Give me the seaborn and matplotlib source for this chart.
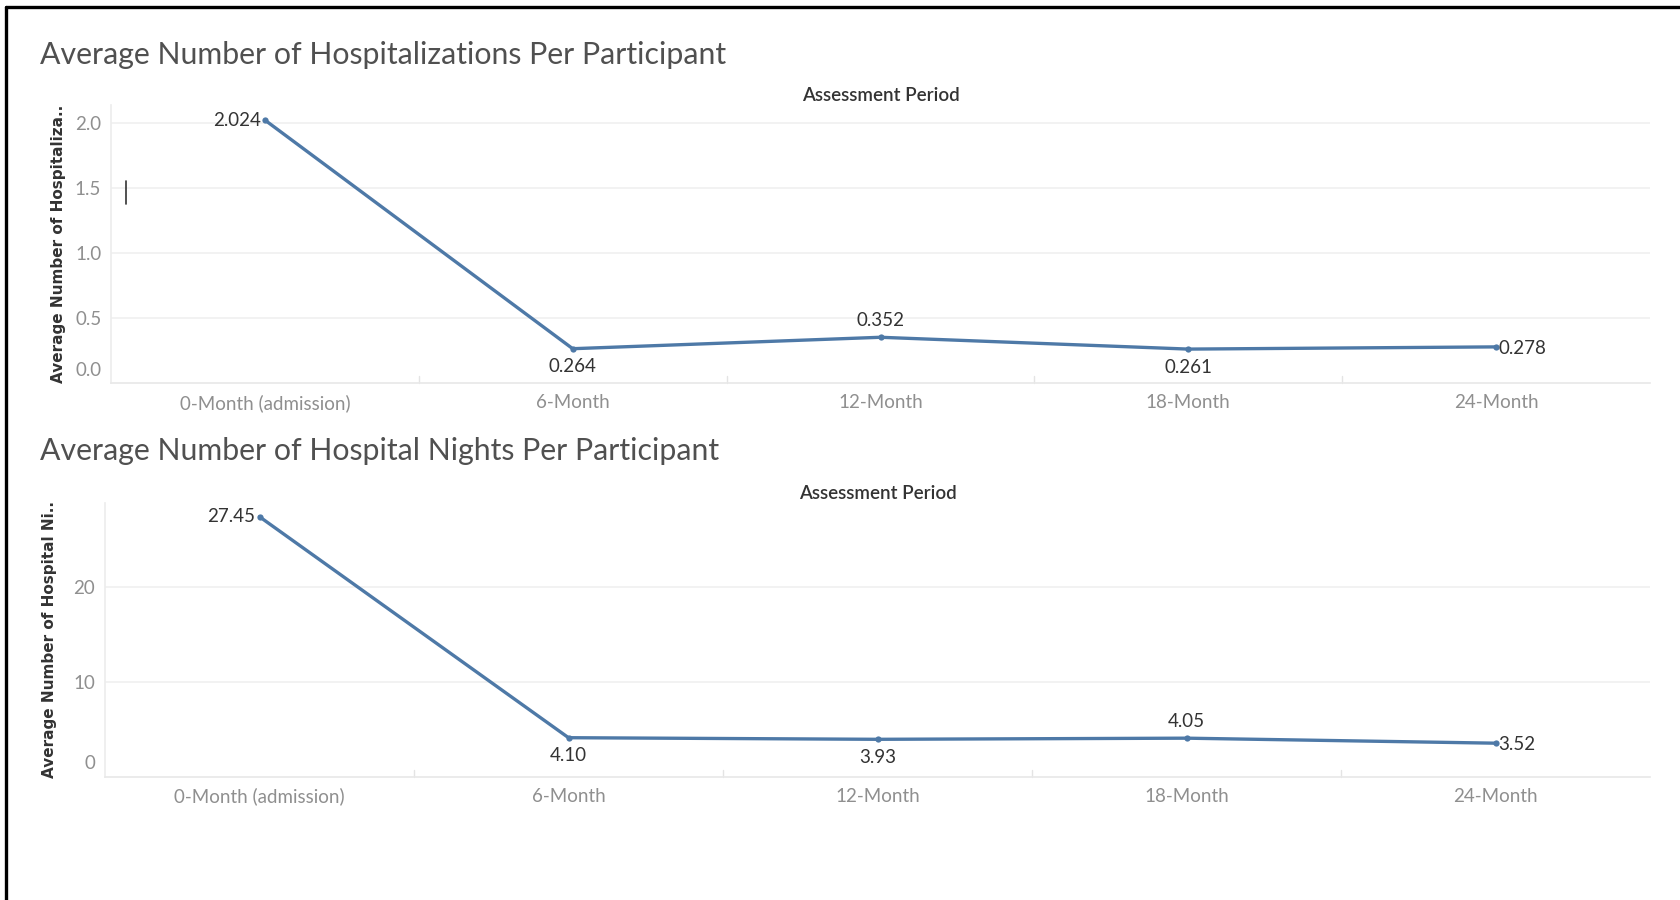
import matplotlib
matplotlib.use("Agg")
import matplotlib.pyplot as plt
import matplotlib.transforms as mtransforms
import seaborn as sns
import pandas as pd
from matplotlib.lines import Line2D

# ---- data ----
periods = ["0-Month (admission)", "6-Month", "12-Month", "18-Month", "24-Month"]
hospitalizations = [2.024, 0.264, 0.352, 0.261, 0.278]
hosp_labels = ["2.024", "0.264", "0.352", "0.261", "0.278"]
nights = [27.45, 4.10, 3.93, 4.05, 3.52]
night_labels = ["27.45", "4.10", "3.93", "4.05", "3.52"]
label_pos_top = ["left", "below", "above", "below", "right"]
label_pos_bottom = ["left", "below", "below", "above", "right"]
hosp_ticks = [0.0, 0.5, 1.0, 1.5, 2.0]
hosp_ticklabels = ["0.0", "0.5", "1.0", "1.5", "2.0"]
night_ticks = [0, 10, 20]
night_ticklabels = ["0", "10", "20"]

sns.set_theme(style="white")
plt.rcParams["font.family"] = ["Lato", "DejaVu Sans"]

W, H = 1680, 900
fig = plt.figure(figsize=(16.8, 9), dpi=100)

LINE = "#4e79a7"
TICK = "#8f8f8f"
TXT = "#333333"
GRID = "#f0f0f0"


def box(l, t, r, b):
    return [l / W, 1 - b / H, (r - l) / W, (b - t) / H]


def draw(ax, values, labels, positions, ticks, ticklabels, ylim, ylabel, ylab_x):
    df = pd.DataFrame({"Assessment Period": periods, "value": values})
    sns.lineplot(data=df, x="Assessment Period", y="value", ax=ax, sort=False,
                 color=LINE, linewidth=2.4, marker="o", markersize=4.5,
                 markeredgewidth=0)
    ax.set_xlim(-0.5, len(periods) - 0.5)
    ax.set_ylim(*ylim)
    ax.set_yticks(ticks)
    ax.set_yticklabels(ticklabels)
    ax.set_xticks(range(len(periods)))
    ax.set_xticklabels(periods)
    for t in ax.get_xticklabels() + ax.get_yticklabels():
        t.set_color(TICK)
        t.set_fontsize(13.5)
    ax.tick_params(axis="x", length=0, pad=8)
    ax.tick_params(axis="y", length=0, pad=7)
    lab0 = ax.yaxis.get_major_ticks()[0].label1
    lab0.set_verticalalignment("bottom")
    lab0.set_transform(lab0.get_transform() +
                       mtransforms.ScaledTranslation(0, 3 / 72, fig.dpi_scale_trans))
    for y in ticks[1:]:
        ax.axhline(y, color=GRID, lw=1.2, zorder=0)
    # category separators along bottom
    for i in range(1, len(periods)):
        ax.plot([i - 0.5, i - 0.5], [0, 0.025], transform=ax.get_xaxis_transform(),
                color="#e4e4e4", lw=1, clip_on=False)
    for s in ["top", "right"]:
        ax.spines[s].set_visible(False)
    ax.spines["left"].set_color("#ececec")
    ax.spines["bottom"].set_color("#e8e8e8")
    ax.spines["left"].set_linewidth(1.2)
    ax.spines["bottom"].set_linewidth(1.2)
    ax.set_xlabel("")
    ax.set_ylabel(ylabel, fontsize=11, color=TXT, fontweight="bold",
                  family=["DejaVu Sans"])
    ax.yaxis.set_label_coords(ylab_x, 0.5)
    ax.set_title("Assessment Period", fontsize=13.5, color=TXT, pad=3,
                 fontweight="semibold")
    ax.grid(False)
    for i, (v, lab, p) in enumerate(zip(values, labels, positions)):
        if p == "left":
            off, ha, va = (-3, 0), "right", "center"
        elif p == "right":
            off, ha, va = (2, -1), "left", "center"
        elif p == "above":
            off, ha, va = (0, 6), "center", "bottom"
        else:
            off, ha, va = (0, -7), "center", "top"
        ax.annotate(lab, (i, v), xytext=off, textcoords="offset points",
                    ha=ha, va=va, fontsize=13.5, color=TXT)


ax1 = fig.add_axes(box(111, 105, 1650, 383))
draw(ax1, hospitalizations, hosp_labels, label_pos_top, hosp_ticks,
     hosp_ticklabels, (0, 2.14), "Average Number of Hospitaliza..", -0.029)

ax2 = fig.add_axes(box(105, 503, 1650, 776.5))
draw(ax2, nights, night_labels, label_pos_bottom, night_ticks,
     night_ticklabels, (0, 28.9), "Average Number of Hospital Ni..", -0.031)

fig.text(40 / W, 1 - 55 / H, "Average Number of Hospitalizations Per Participant",
         fontsize=21.8, color="#505050", va="center", ha="left")
fig.text(40 / W, 1 - 451 / H, "Average Number of Hospital Nights Per Participant",
         fontsize=21.8, color="#505050", va="center", ha="left")

# screenshot frame (top and left edges) and cursor artifact
fig.add_artist(Line2D([5.5 / W, 1], [1 - 6.5 / H, 1 - 6.5 / H], color="black", lw=2.4))
fig.add_artist(Line2D([5.5 / W, 5.5 / W], [0, 1 - 6.5 / H], color="black", lw=2.4))
fig.add_artist(Line2D([126 / W, 126 / W], [1 - 181 / H, 1 - 204 / H], color="#333333", lw=1.2))

fig.savefig("out.png", dpi=100, facecolor="white")
